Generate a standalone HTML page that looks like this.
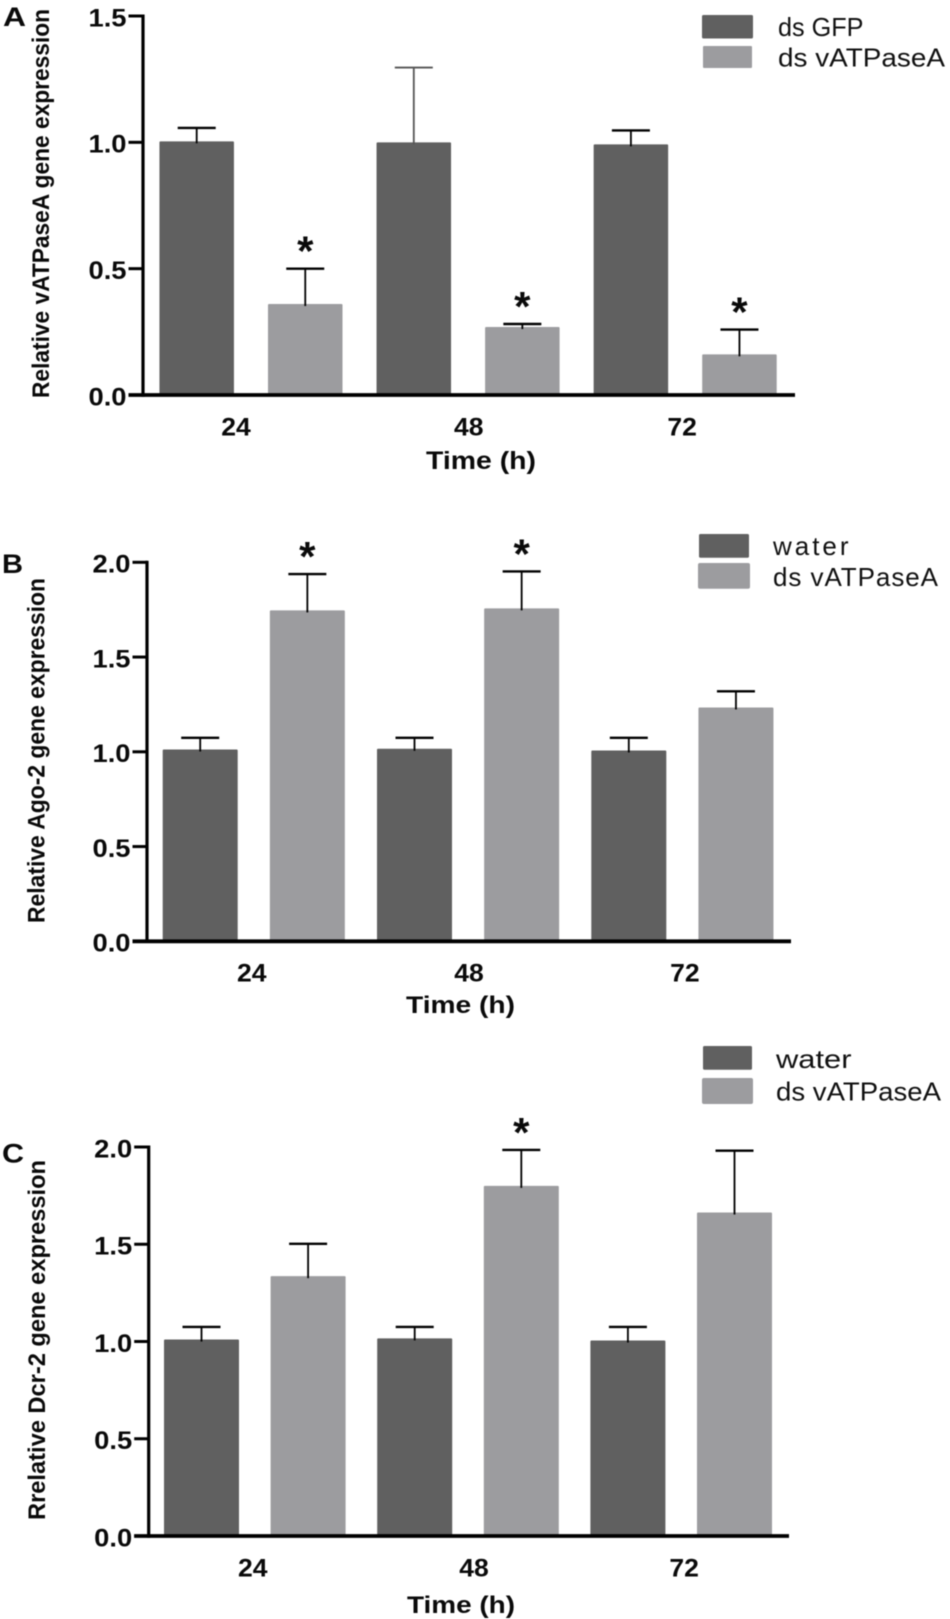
<!DOCTYPE html>
<html lang="en">
<head>
<meta charset="utf-8">
<title>Relative gene expression over time</title>
<style>
  html, body { margin: 0; padding: 0; background: #fff; }
  svg { display: block; font-family: "Liberation Sans", Arial, sans-serif; filter: blur(0.4px); }
  .bold { font-weight: 700; fill: #0a0a0a; }
  .legend { font-size: 26px; fill: #111; }
</style>
</head>
<body>
<svg id="figure" xmlns="http://www.w3.org/2000/svg" width="950" height="1619" viewBox="0 0 950 1619">
  <rect x="0" y="0" width="950" height="1619" fill="#ffffff"/>

  <g>
    <text class="bold" x="3" y="26" font-size="27" textLength="23" lengthAdjust="spacingAndGlyphs">A</text>
    <text class="bold" transform="translate(49,398) rotate(-90)" font-size="24" textLength="389" lengthAdjust="spacingAndGlyphs">Relative vATPaseA gene expression</text>
    <text class="bold" x="481" y="469" font-size="25" text-anchor="middle" textLength="110" lengthAdjust="spacingAndGlyphs">Time (h)</text>
    <rect x="702" y="15" width="51" height="23.5" rx="1.5" fill="#606060"/>
    <rect x="703" y="46" width="49" height="22" rx="1" fill="#9c9c9f"/>
    <text class="legend" x="778" y="36" textLength="85.5" lengthAdjust="spacingAndGlyphs">ds GFP</text>
    <text class="legend" x="778" y="66.7" textLength="167" lengthAdjust="spacingAndGlyphs">ds vATPaseA</text>
  </g>

  <g>
    <text class="bold" x="2" y="573" font-size="27" textLength="21" lengthAdjust="spacingAndGlyphs">B</text>
    <text class="bold" transform="translate(44.5,923) rotate(-90)" font-size="24" textLength="345" lengthAdjust="spacingAndGlyphs">Relative Ago-2 gene expression</text>
    <text class="bold" x="460.5" y="1013" font-size="24" text-anchor="middle" textLength="109" lengthAdjust="spacingAndGlyphs">Time (h)</text>
    <rect x="699" y="534" width="50" height="23.7" rx="1.5" fill="#606060"/>
    <rect x="698" y="563" width="52" height="25.7" rx="2" fill="#9c9c9f"/>
    <text class="legend" x="773" y="555" textLength="75.5" lengthAdjust="spacing">water</text>
    <text class="legend" x="773" y="586" textLength="165" lengthAdjust="spacing">ds vATPaseA</text>
  </g>

  <g>
    <text class="bold" x="2" y="1162.7" font-size="27" textLength="22" lengthAdjust="spacingAndGlyphs">C</text>
    <text class="bold" transform="translate(45,1520) rotate(-90)" font-size="24" textLength="360" lengthAdjust="spacingAndGlyphs">Rrelative Dcr-2 gene expression</text>
    <text class="bold" x="461" y="1613" font-size="24" text-anchor="middle" textLength="108" lengthAdjust="spacingAndGlyphs">Time (h)</text>
    <rect x="703" y="1046" width="49" height="23.7" rx="1.5" fill="#606060"/>
    <rect x="702" y="1078" width="51" height="26" rx="2" fill="#9c9c9f"/>
    <text class="legend" x="776" y="1068" textLength="75.5" lengthAdjust="spacingAndGlyphs">water</text>
    <text class="legend" x="776" y="1100.5" textLength="165" lengthAdjust="spacingAndGlyphs">ds vATPaseA</text>
  </g>
</svg>

<script>
// ---- chart data ----
const categories = ['24', '48', '72'];

const yTicksA = [0, 0.5, 1.0, 1.5];
const yTickLabelsA = ['0.0', '0.5', '1.0', '1.5'];
const controlMeansA = [1.004, 1.0, 0.992];
const controlErrorTopsA = [1.057, 1.296, 1.047];
const treatedMeansA = [0.36, 0.269, 0.161];
const treatedErrorTopsA = [0.5, 0.281, 0.259];
const significantA = [true, true, true];

const yTicksB = [0, 0.5, 1.0, 1.5, 2.0];
const yTickLabelsB = ['0.0', '0.5', '1.0', '1.5', '2.0'];
const controlMeansB = [1.012, 1.016, 1.007];
const controlErrorTopsB = [1.074, 1.074, 1.074];
const treatedMeansB = [1.746, 1.757, 1.234];
const treatedErrorTopsB = [1.938, 1.952, 1.319];
const significantB = [true, true, false];

const yTicksC = [0, 0.5, 1.0, 1.5, 2.0];
const yTickLabelsC = ['0.0', '0.5', '1.0', '1.5', '2.0'];
const controlMeansC = [1.010, 1.016, 1.005];
const controlErrorTopsC = [1.075, 1.075, 1.075];
const treatedMeansC = [1.336, 1.80, 1.663];
const treatedErrorTopsC = [1.502, 1.985, 1.981];
const significantC = [false, true, false];

// ---- drawing ----
const SVG_NS = 'http://www.w3.org/2000/svg';
const figure = document.getElementById('figure');

function shape(parent, tag, attrs) {
  const node = document.createElementNS(SVG_NS, tag);
  Object.keys(attrs).forEach(function (k) { node.setAttribute(k, attrs[k]); });
  parent.appendChild(node);
  return node;
}

function drawPanel(p) {
  const yScale = function (v) { return p.baseY - v * p.unit; };
  const xScale = function (group, series) { return p.firstBarX + (2 * group + series) * p.barStep; };

  const root = shape(figure, 'g', {});
  
  

  // bars, then error bars and significance stars
  [
    { means: p.controlMeans, tops: p.controlTops, fill: '#606060', key: 'control' },
    { means: p.treatedMeans, tops: p.treatedTops, fill: '#9c9c9f', key: 'treated' }
  ].forEach(function (series, s) {
    series.means.forEach(function (value, g) {
      const cx = xScale(g, s);
      const bar = shape(root, 'rect', {
        x: cx - p.barWidth / 2,
        y: yScale(value),
        width: p.barWidth,
        height: Math.max(0, yScale(0) - yScale(value)),
        rx: 1,
        fill: series.fill
      });
      
      

      const thin = p.thinError && p.thinError.series === s && p.thinError.group === g;
      const color = thin ? '#555555' : '#000000';
      const stem = shape(root, 'line', {
        x1: cx, x2: cx,
        y1: yScale(series.tops[g]),
        y2: yScale(value) + 2,
        stroke: color,
        'stroke-width': 1.8
      });
      
      

      const cap = shape(root, 'line', {
        x1: cx - 19, x2: cx + 19,
        y1: yScale(series.tops[g]),
        y2: yScale(series.tops[g]),
        stroke: color,
        'stroke-width': thin ? 1.8 : 2.4
      });
      
      

      if (s === 1 && p.significant[g]) {
        const star = shape(root, 'text', {
          x: cx,
          y: yScale(series.tops[g]) - 3,
          'font-size': 42,
          'font-weight': 700,
          'text-anchor': 'middle',
          fill: '#0a0a0a'
        });
        
        
        star.textContent = '*';
      }
    });
  });

  // y axis
  const yAxis = shape(root, 'line', {
    x1: p.axisX, x2: p.axisX,
    y1: yScale(p.yTicks[p.yTicks.length - 1]) - 1.5,
    y2: yScale(0) + 1.75,
    stroke: '#000', 'stroke-width': 3.2
  });
  
  

  p.yTicks.forEach(function (t, i) {
    const tick = shape(root, 'line', {
      x1: p.axisX - 14.5, x2: p.axisX,
      y1: yScale(t), y2: yScale(t),
      stroke: '#000', 'stroke-width': 3
    });
    
    

    const label = shape(root, 'text', {
      x: p.axisX - 16.5,
      y: yScale(t) + 10.3,
      'font-size': 25,
      'font-weight': 700,
      'text-anchor': 'end',
      textLength: 38,
      lengthAdjust: 'spacingAndGlyphs',
      fill: '#0a0a0a'
    });
    
    
    label.textContent = p.yTickLabels[i];
  });

  // x axis
  const xAxis = shape(root, 'line', {
    x1: p.axisX - 14.5, x2: p.axisEndX,
    y1: yScale(0), y2: yScale(0),
    stroke: '#000', 'stroke-width': 3.8
  });
  
  

  categories.forEach(function (c, g) {
    const mid = (xScale(g, 0) + xScale(g, 1)) / 2;
    const label = shape(root, 'text', {
      x: mid + p.labelNudge[g],
      y: p.labelY,
      'font-size': 25,
      'font-weight': 700,
      'text-anchor': 'middle',
      textLength: 29.5,
      lengthAdjust: 'spacingAndGlyphs',
      fill: '#0a0a0a'
    });
    
    
    label.textContent = c;
  });
}

drawPanel({
  id: 'a', baseY: 395, unit: 252.67, axisX: 143, axisEndX: 795,
  firstBarX: 196.7, barStep: 108.55, barWidth: 74.5, labelY: 435.5,
  labelNudge: [-15, 0.7, -3],
  thinError: { series: 0, group: 1 },
  yTicks: yTicksA, yTickLabels: yTickLabelsA,
  controlMeans: controlMeansA, controlTops: controlErrorTopsA,
  treatedMeans: treatedMeansA, treatedTops: treatedErrorTopsA,
  significant: significantA
});

drawPanel({
  id: 'b', baseY: 941.3, unit: 189.5, axisX: 147, axisEndX: 791,
  firstBarX: 200.2, barStep: 107.15, barWidth: 75, labelY: 981.7,
  labelNudge: [-2, 1, 2.5],
  yTicks: yTicksB, yTickLabels: yTickLabelsB,
  controlMeans: controlMeansB, controlTops: controlErrorTopsB,
  treatedMeans: treatedMeansB, treatedTops: treatedErrorTopsB,
  significant: significantB
});

drawPanel({
  id: 'c', baseY: 1536, unit: 194.5, axisX: 148.7, axisEndX: 789,
  firstBarX: 201.5, barStep: 106.6, barWidth: 75, labelY: 1576.7,
  labelNudge: [-2, 6, 3],
  yTicks: yTicksC, yTickLabels: yTickLabelsC,
  controlMeans: controlMeansC, controlTops: controlErrorTopsC,
  treatedMeans: treatedMeansC, treatedTops: treatedErrorTopsC,
  significant: significantC
});
</script>
</body>
</html>
